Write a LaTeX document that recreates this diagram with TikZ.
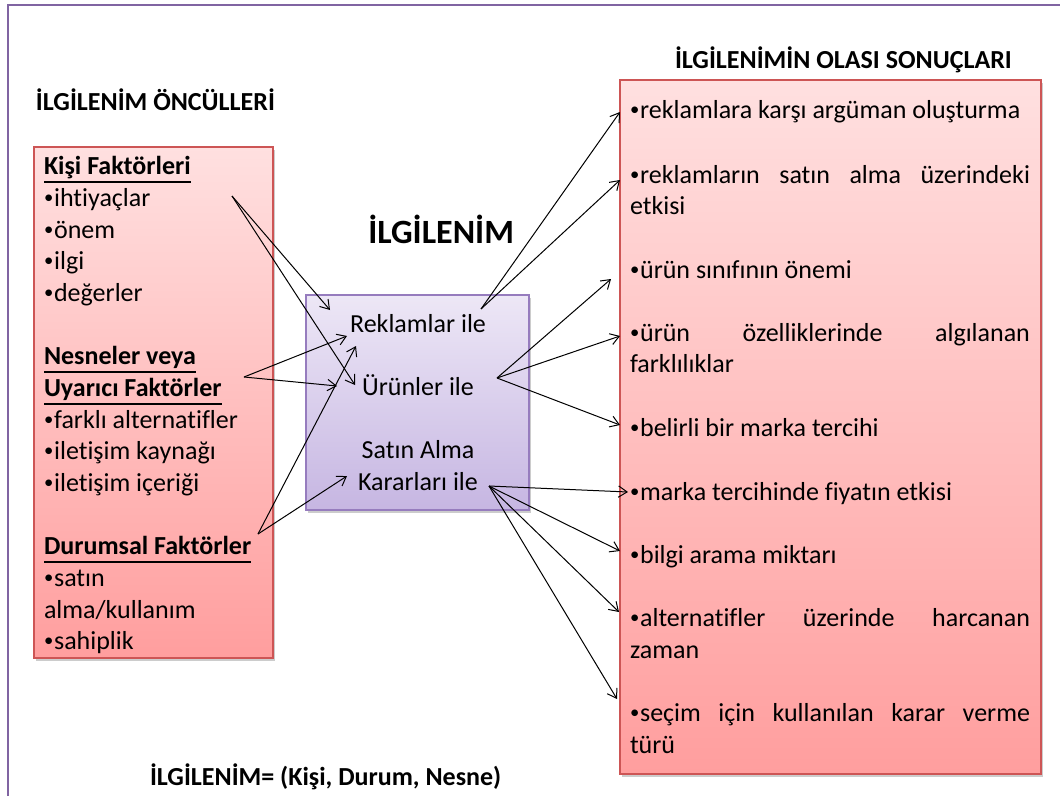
\documentclass[tikz,border=0pt]{standalone}
\usepackage{fontspec}
\setmainfont{Carlito}[Ligatures=NoCommon]
\usetikzlibrary{arrows.meta,shadows}

\definecolor{framepurple}{RGB}{128,100,162}
\definecolor{pinktop}{RGB}{255,224,224}
\definecolor{pinkbot}{RGB}{255,158,158}
\definecolor{pinkedge}{RGB}{205,85,85}
\definecolor{liltop}{RGB}{237,231,246}
\definecolor{lilbot}{RGB}{198,182,226}
\definecolor{liledge}{RGB}{150,124,190}

% underline drawn at a fixed depth below the baseline
\newcommand\ulin[1]{\setbox0\hbox{#1}\rlap{\rule[-6.6pt]{\wd0}{1.1pt}}\box0}
% a line spread over the full width of the outcome box
\newcommand\jline[1]{\hbox to 300pt{#1}}
% small list bullet, lifted to the middle of the x-height
\newcommand\bul{\raisebox{1.6pt}{\fontsize{14}{14}\selectfont•}\kern0.6pt}

\tikzset{
  body/.style={font=\fontsize{19.5}{23.8}\selectfont, inner sep=0pt, outer sep=0pt},
  head/.style={font=\fontsize{19.5}{23.8}\selectfont\bfseries, inner sep=0pt, outer sep=0pt},
  factbox/.style={draw=pinkedge, line width=0.8pt, top color=pinktop, bottom color=pinkbot,
    inner sep=0pt, outer sep=0pt,
    drop shadow={shadow xshift=1.2pt, shadow yshift=-2pt, opacity=0.2, fill=black}},
  midbox/.style={draw=liledge, line width=0.8pt, top color=liltop, bottom color=lilbot,
    inner sep=0pt, outer sep=0pt,
    drop shadow={shadow xshift=1.2pt, shadow yshift=-2pt, opacity=0.2, fill=black}},
  conn/.style={draw=black, line width=0.75pt, -{Straight Barb[length=6.5pt,width=8.5pt]}}
}

\begin{document}
\begin{tikzpicture}[x=0.75pt,y=-0.75pt]
\useasboundingbox (0,0) rectangle (1060,796);
\fill[white] (0,0) rectangle (1060,796);

% slide frame
\draw[framepurple, line width=1.6pt] (8,796) -- (8,5) -- (1060,5);

% boxes
\node[factbox, minimum width=179.25pt, minimum height=383.25pt] (ante) at (153.5,402.5) {};
\node[midbox, minimum width=167.25pt, minimum height=161.25pt] (inv) at (417.5,402.5) {};
\node[factbox, minimum width=315.75pt, minimum height=520.5pt] (outc) at (830.5,427) {};

% titles
\node[head, anchor=base west] (tleft) at (36,110) {İLGİLENİM ÖNCÜLLERİ};
\node[head, anchor=base west] (tright) at (675,68) {İLGİLENİMİN OLASI SONUÇLARI};
\node[font=\fontsize{25.5}{30}\selectfont\bfseries, inner sep=0pt, anchor=base west] (tmid) at (368,243) {İLGİLENİM};
\node[head, anchor=base west] (formula) at (150,785) {İLGİLENİM= (Kişi, Durum, Nesne)};

% antecedents
\node[head, anchor=base west] (l1) at (44,174) {\ulin{Kişi Faktörleri}};
\node[body, anchor=base west] (l2) at (44,206) {\bul ihtiyaçlar};
\node[body, anchor=base west] (l3) at (44,238) {\bul önem};
\node[body, anchor=base west] (l4) at (44,269) {\bul ilgi};
\node[body, anchor=base west] (l5) at (44,301) {\bul değerler};
\node[head, anchor=base west] (l6) at (44,364) {\ulin{Nesneler veya}};
\node[head, anchor=base west] (l7) at (44,396) {\ulin{Uyarıcı Faktörler}};
\node[body, anchor=base west] (l8) at (44,428) {\bul farklı alternatifler};
\node[body, anchor=base west] (l9) at (44,459) {\bul iletişim kaynağı};
\node[body, anchor=base west] (l10) at (44,491) {\bul iletişim içeriği};
\node[head, anchor=base west] (l11) at (44,554) {\ulin{Durumsal Faktörler}};
\node[body, anchor=base west] (l12) at (44,586) {\bul satın};
\node[body, anchor=base west] (l13) at (44,618) {alma/kullanım};
\node[body, anchor=base west] (l14) at (44,649) {\bul sahiplik};

% involvement objects
\node[body, anchor=base] (m1) at (418,332) {Reklamlar ile};
\node[body, anchor=base] (m2) at (418,395) {Ürünler ile};
\node[body, anchor=base] (m3) at (418,458) {Satın Alma};
\node[body, anchor=base] (m4) at (418,490) {Kararları ile};

% outcomes
\node[body, anchor=base west] (r1) at (630,118) {\bul reklamlara karşı argüman oluşturma};
\node[body, anchor=base west] (r2) at (630,183) {\jline{\bul reklamların\hfill satın\hfill alma\hfill üzerindeki}};
\node[body, anchor=base west] (r2b) at (630,214) {etkisi};
\node[body, anchor=base west] (r3) at (630,278) {\bul ürün sınıfının önemi};
\node[body, anchor=base west] (r4) at (630,341) {\jline{\bul ürün\hfill özelliklerinde\hfill algılanan}};
\node[body, anchor=base west] (r4b) at (630,372) {farklılıklar};
\node[body, anchor=base west] (r5) at (630,436) {\bul belirli bir marka tercihi};
\node[body, anchor=base west] (r6) at (630,500) {\bul marka tercihinde fiyatın etkisi};
\node[body, anchor=base west] (r7) at (630,563) {\bul bilgi arama miktarı};
\node[body, anchor=base west] (r8) at (630,626) {\jline{\bul alternatifler\hfill üzerinde\hfill harcanan}};
\node[body, anchor=base west] (r8b) at (630,658) {zaman};
\node[body, anchor=base west] (r9) at (630,721) {\jline{\bul seçim\hfill için\hfill kullanılan\hfill karar\hfill verme}};
\node[body, anchor=base west] (r9b) at (630,753) {türü};

% connector end points
\coordinate (kisiS) at (232,196);
\coordinate (kisiA) at (330,310);
\coordinate (kisiB) at (355,385);
\coordinate (nesS) at (244,377);
\coordinate (nesA) at (347,336);
\coordinate (nesB) at (337,386);
\coordinate (durS) at (258,534);
\coordinate (durA) at (356,346);
\coordinate (durB) at (347,476);
\coordinate (rekS) at (481,309);
\coordinate (rekA) at (620,112);
\coordinate (rekB) at (620,180);
\coordinate (urS) at (497,378);
\coordinate (urA) at (611,279);
\coordinate (urB) at (620,336);
\coordinate (urC) at (620,425);
\coordinate (karS) at (489,486);
\coordinate (karA) at (628,492);
\coordinate (karB) at (620,551);
\coordinate (karC) at (619,612);
\coordinate (karD) at (617,699);

% antecedents -> involvement
\draw[conn] (kisiS) -- (kisiA);
\draw[conn] (kisiS) -- (kisiB);
\draw[conn] (nesS) -- (nesA);
\draw[conn] (nesS) -- (nesB);
\draw[conn] (durS) -- (durA);
\draw[conn] (durS) -- (durB);

% involvement -> outcomes
\draw[conn] (rekS) -- (rekA);
\draw[conn] (rekS) -- (rekB);
\draw[conn] (urS) -- (urA);
\draw[conn] (urS) -- (urB);
\draw[conn] (urS) -- (urC);
\draw[conn] (karS) -- (karA);
\draw[conn] (karS) -- (karB);
\draw[conn] (karS) -- (karC);
\draw[conn] (karS) -- (karD);
\end{tikzpicture}
\end{document}
